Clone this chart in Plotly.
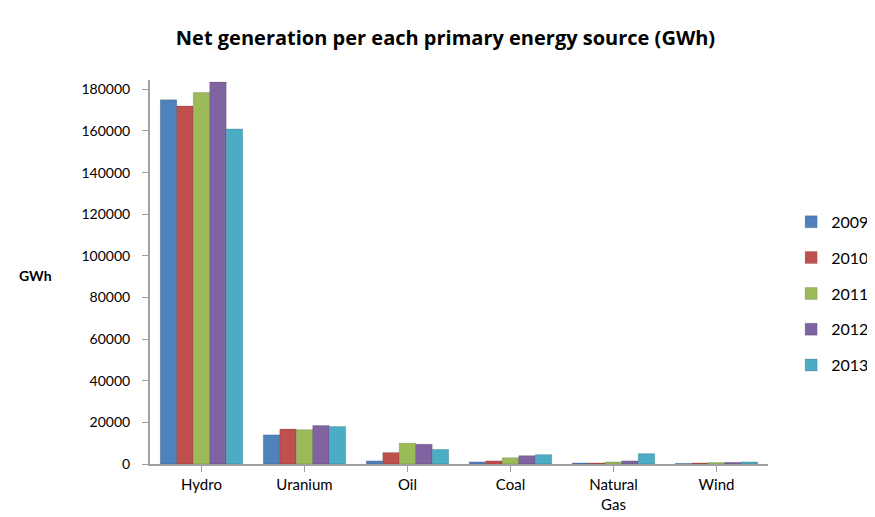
import plotly.graph_objects as go

categories = ["Hydro", "Uranium", "Oil", "Coal", "Natural<br>Gas", "Wind"]
years = ["2009", "2010", "2011", "2012", "2013"]
values = {
    "2009": [175000, 14000, 1500, 1000, 500, 300],
    "2010": [172000, 16800, 5500, 1500, 500, 500],
    "2011": [178500, 16500, 10000, 3000, 1000, 700],
    "2012": [183500, 18500, 9500, 4000, 1500, 800],
    "2013": [161000, 18000, 7000, 4500, 5000, 1000],
}
colors = ["#4F81BD", "#C0504D", "#9BBB59", "#8064A2", "#4BACC6"]
y_ticks = list(range(0, 180001, 20000))

fig = go.Figure()
for yr, c in zip(years, colors):
    fig.add_trace(go.Bar(
        x=categories, y=values[yr], name=yr, legendgroup=yr,
        marker=dict(color=c, line=dict(color="rgba(0,0,0,0.15)", width=1)),
    ))

fig.update_layout(
    width=875, height=517,
    paper_bgcolor="white", plot_bgcolor="white",
    margin=dict(l=142, r=115, t=72, b=56),
    barmode="group", bargap=0.2, bargroupgap=0.0,
    font=dict(family="Lato, Open Sans, sans-serif", size=15, color="#000"),
    title=dict(text="<b>Net generation per each primary energy source (GWh)</b>",
               x=0.5, xanchor="center", y=0.942, yanchor="middle",
               font=dict(size=20, family="Open Sans, Lato, sans-serif")),
    legend=dict(xref="container", yref="container", x=0.895, xanchor="left",
                y=0.448, yanchor="middle",
                tracegroupgap=12, font=dict(size=16), traceorder="grouped"),
    xaxis=dict(showline=True, linecolor="#A0A0A0", linewidth=2,
               ticks="outside", tickcolor="#A0A0A0", ticklen=6,
               showgrid=False, tickfont=dict(size=15)),
    yaxis=dict(range=[0, 184500], tickvals=y_ticks, tickformat="d",
               showline=True, linecolor="#A0A0A0", linewidth=2,
               ticks="outside", tickcolor="#A0A0A0", ticklen=6,
               showgrid=False, zeroline=False, tickfont=dict(size=14),
               ticklabelstandoff=9),
    annotations=[dict(text="<b>GWh</b>", x=-0.185, y=0.49, xref="paper", yref="paper",
                      xanchor="center", yanchor="middle", showarrow=False,
                      font=dict(size=14))],
)
fig.write_html("out.html")
